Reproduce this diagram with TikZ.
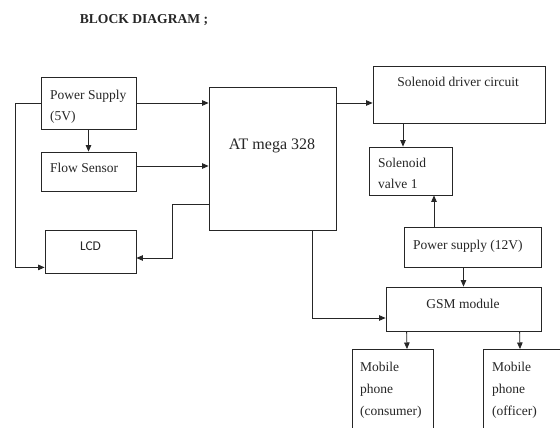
\documentclass[tikz,border=0pt]{standalone}
\usepackage{fontspec}
\setmainfont{Liberation Serif}
\newfontfamily\calfont{Carlito}
\usetikzlibrary{arrows.meta,calc}
\begin{document}
\begin{tikzpicture}[x=1pt,y=-1pt,
  box/.style={draw=black!85, line width=0.8pt, inner sep=0pt, rectangle},
  txt/.style={inner sep=0pt, text=black!85, font=\fontsize{13.5}{20.5}\selectfont, align=left},
  conn/.style={draw=black!85, line width=0.8pt, -{Triangle[length=6.5pt,width=5.5pt]}},
  wire/.style={draw=black!85, line width=0.8pt}]
\useasboundingbox (0,0) rectangle (560,428);
\fill[white] (0,0) rectangle (560,428);
\clip (0,0) rectangle (560,428);
% title
\node[txt, font=\bfseries\fontsize{13.6}{16}\selectfont] (title) at (144,20) {BLOCK DIAGRAM ;};
% boxes
\node[box, minimum width=95pt, minimum height=52pt] (ps) at (88.5,103) {};
\node[box, minimum width=95pt, minimum height=39pt] (fs) at (88.5,171.5) {};
\node[box, minimum width=127pt, minimum height=143pt] (at) at (272.5,158.5) {};
\node[box, minimum width=91pt, minimum height=43pt] (lcd) at (90.5,251.5) {};
\node[box, minimum width=172pt, minimum height=57pt] (drv) at (459,94.5) {};
\node[box, minimum width=83pt, minimum height=48pt] (valve) at (410.5,171) {};
\node[box, minimum width=137pt, minimum height=40pt] (ps12) at (472.5,247) {};
\node[box, minimum width=155pt, minimum height=44pt] (gsm) at (463.5,309) {};
\node[box, minimum width=81pt, minimum height=100pt, anchor=north west] (m1) at (352,349) {};
\node[box, minimum width=120pt, minimum height=100pt, anchor=north west] (m2) at (483,349) {};
% texts
\node[txt, anchor=west] (pst) at (50,107) {Power Supply\\(5V)};
\node[txt, anchor=west] (fst) at (50,168) {Flow Sensor};
\node[txt, font=\fontsize{16}{19}\selectfont] (att) at (272,146) {AT mega 328};
\node[txt, font=\calfont\fontsize{13.4}{16}\selectfont] (lcdt) at (90.5,246) {LCD};
\node[txt] (drvt) at (458,82) {Solenoid driver circuit};
\node[txt, anchor=west] (valvet) at (378,173.5) {Solenoid\\valve 1};
\node[txt, anchor=west] (ps12t) at (413,246) {Power supply (12V)};
\node[txt] (gsmt) at (463,304) {GSM module};
\node[txt, anchor=west, font=\fontsize{13.5}{22}\selectfont] (m1t) at (360,390) {Mobile\\phone\\(consumer)};
\node[txt, anchor=west, font=\fontsize{13.5}{22}\selectfont] (m2t) at (492,390) {Mobile\\phone\\(officer)};
% helper coordinates
\coordinate (lx) at (15,0);
\coordinate (ly) at (172,0);
\coordinate (gx) at (312,0);
% connectors
\draw[conn] (ps.east) -- (ps.east -| at.west);
\draw[conn] (ps.south) -- (fs.north);
\draw[conn] ($(fs.east)+(0,-5.5)$) -- ($(fs.east -| at.west)+(0,-5.5)$);
\draw[conn] (ps.west) -- (ps.west -| lx) -- ($(lx |- lcd.south)+(0,-6)$) -- ($(lcd.south west)+(0,-6)$);
\draw[conn] ($(at.south west)+(0,-26)$) -- ($(ly |- at.south)+(0,-26)$) -- ($(ly |- lcd.east)+(0,6.5)$) -- ($(lcd.east)+(0,6.5)$);
\draw[conn] (ps.east -| at.east) -- (ps.east -| drv.west);
\draw[conn] ($(drv.south)+(-56,0)$) -- ($(valve.north)+(-7.5,0)$);
\draw[conn] ($(ps12.north)+(-38.5,0)$) -- ($(valve.south)+(23.5,0)$);
\draw[conn] (ps12.south -| gsm.north) -- (gsm.north);
\draw[conn] (gx |- at.south) -- ($(gx |- gsm.west)+(0,9)$) -- ($(gsm.west)+(0,9)$);
\draw[conn] ($(gsm.south west)+(21,0)$) -- ($(m1.north west)+(55,0)$);
\draw[conn] ($(gsm.south west)+(134,0)$) -- ($(m2.north west)+(37,0)$);
\end{tikzpicture}
\end{document}
